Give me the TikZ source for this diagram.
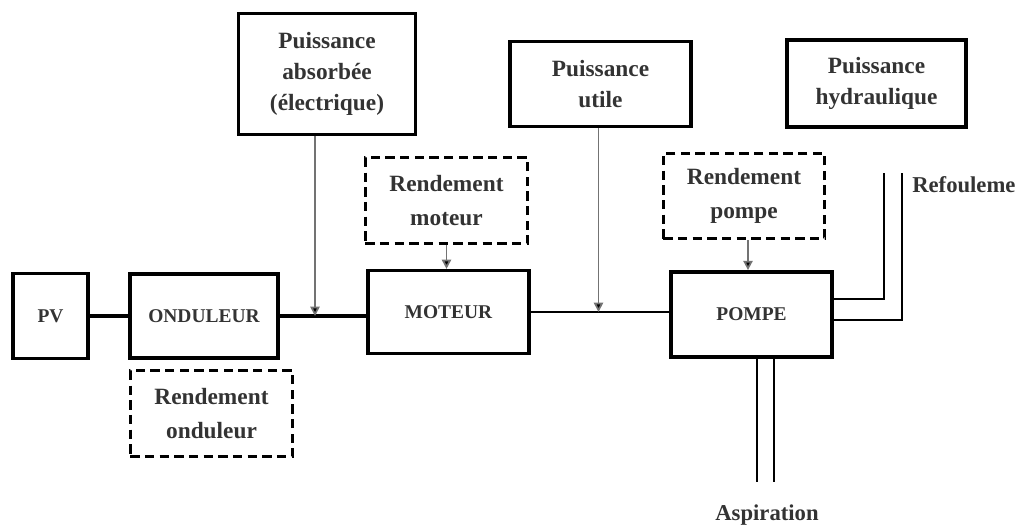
\documentclass[tikz,border=0pt]{standalone}
\usepackage{fontspec}
\setmainfont{Liberation Serif}
\usetikzlibrary{arrows.meta}
\definecolor{ink}{HTML}{333333}
\begin{document}
\begin{tikzpicture}[x=0.75pt,y=-0.75pt,
  every node/.style={font=\bfseries, text=ink, align=center, inner sep=0pt},
  block/.style={draw=black, line width=2.6pt, font=\fontsize{14.6}{18}\selectfont\bfseries},
  power/.style={draw=black, line width=2.6pt, font=\fontsize{17.5}{23}\selectfont\bfseries},
  yield/.style={draw=black, line width=2.3pt, dash pattern=on 7pt off 4pt,
                font=\fontsize{17.5}{25}\selectfont\bfseries},
  link/.style={line width=2.6pt, black},
  shaft/.style={line width=1.8pt, black},
  feed/.style={line width=1.3pt, black!55, -{Triangle[length=7pt,width=7pt,fill=black]}},
  pipe/.style={line width=2pt, black},
  tag/.style={font=\fontsize{17}{20}\selectfont\bfseries}]
\useasboundingbox (0,0) rectangle (1022,529);

% chain of conversion stages
\node[block, minimum width=56pt, minimum height=64pt] (pv) at (50.5,316) {PV};
\node[block, minimum width=111pt, minimum height=63pt] (ond) at (204,316) {ONDULEUR};
\node[block, minimum width=121pt, minimum height=62pt] (mot) at (448.5,312) {MOTEUR};
\node[block, minimum width=121pt, minimum height=64pt] (pompe) at (751.5,314.5) {POMPE};

% efficiencies
\node[yield, minimum width=122pt, minimum height=64pt] (rond) at (211.5,413.5) {Rendement\\onduleur};
\node[yield, minimum width=122pt, minimum height=64pt] (rmot) at (446.5,200.5) {Rendement\\moteur};
\node[yield, minimum width=121pt, minimum height=64pt] (rpompe) at (744,196) {Rendement\\pompe};

% powers
\node[power, minimum width=133pt, minimum height=91pt] (pabs) at (327,74) {Puissance\\absorbée\\(électrique)};
\node[power, minimum width=136pt, minimum height=64pt] (putil) at (600.5,84) {Puissance\\utile};
\node[power, minimum width=134pt, minimum height=65pt] (phyd) at (876.5,83.5) {Puissance\\hydraulique};

% links between stages
\draw[link] (pv.east) -- (ond.west);
\draw[link] (ond.east) -- (ond.east -| mot.west);
\draw[shaft] (mot.east) -- (mot.east -| pompe.west);

% power taps onto the links
\draw[feed] ([xshift=-9pt]pabs.south) coordinate (tapabs) -- (tapabs |- ond.east);
\draw[feed] ([xshift=-1.5pt]putil.south) coordinate (taputil) -- (taputil |- mot.east);

% efficiency arrows
\draw[feed] (rmot.south) -- (rmot.south |- mot.north);
\draw[feed] ([xshift=3pt]rpompe.south) coordinate (tappompe) -- (tappompe |- pompe.north);

% delivery pipe
\coordinate (rin) at (884,173);
\coordinate (rout) at (902,173);
\draw[pipe] ([yshift=11.6pt]pompe.east) -| (rin);
\draw[pipe] ([yshift=-4.1pt]pompe.east) -| (rout);
\node[tag, anchor=west] (refl) at (912,185) {Refouleme};

% suction pipe
\coordinate (ain) at (757,482);
\coordinate (aout) at (774,482);
\draw[pipe] (ain |- pompe.south) -- (ain);
\draw[pipe] (aout |- pompe.south) -- (aout);
\node[tag] (asp) at (767,515) {Aspiration};
\end{tikzpicture}
\end{document}
